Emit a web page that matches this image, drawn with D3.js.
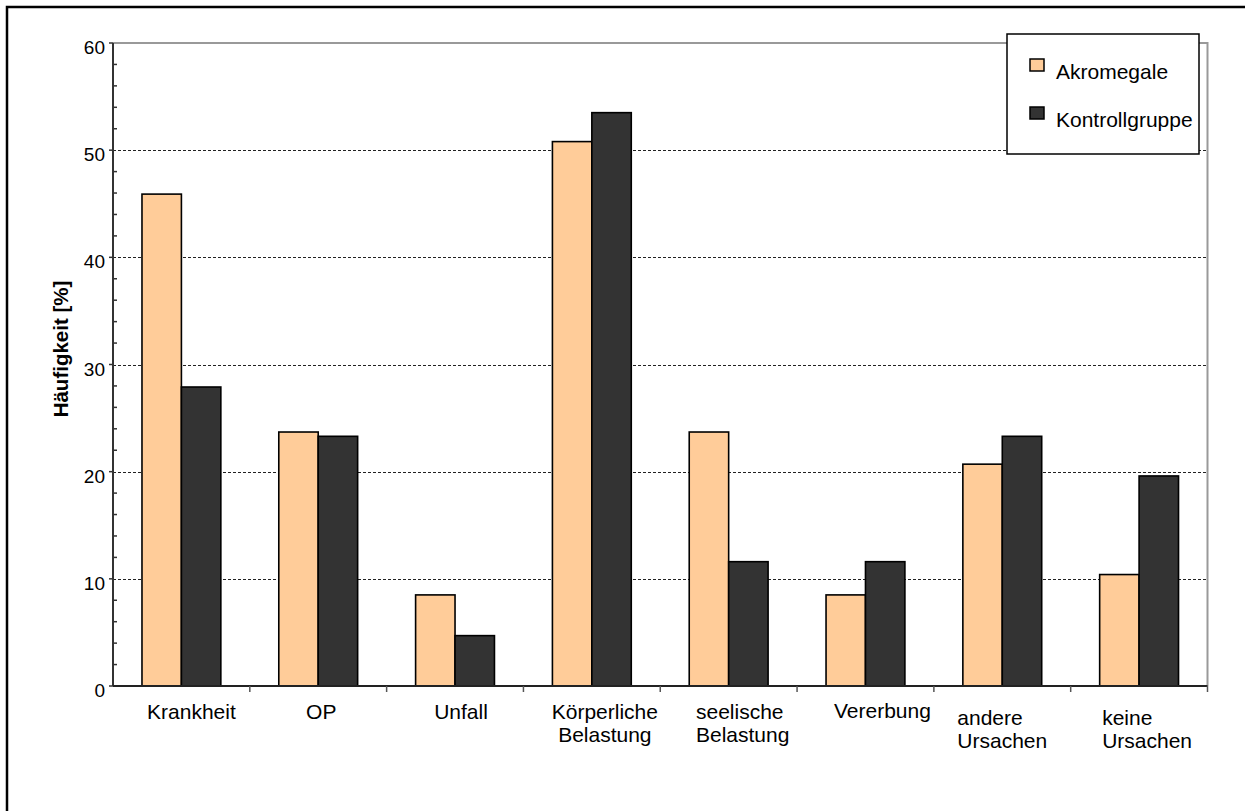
<!DOCTYPE html>
<html>
<head>
<meta charset="utf-8">
<script src="https://cdn.jsdelivr.net/npm/d3@7"></script>
<style>
  html, body { margin: 0; padding: 0; background: #fff; }
  svg { display: block; font-family: "Liberation Sans", Arial, sans-serif; }
</style>
</head>
<body>
<svg id="chart" width="1245" height="811"></svg>
<script>
// ---- data ----
const categories = ["Krankheit", "OP", "Unfall", "Körperliche Belastung", "seelische Belastung", "Vererbung", "andere Ursachen", "keine Ursachen"];
const categoryLines = [["Krankheit"], ["OP"], ["Unfall"], ["Körperliche", "Belastung"], ["seelische", "Belastung"], ["Vererbung"], ["andere", "Ursachen"], ["keine", "Ursachen"]];
const seriesNames = ["Akromegale", "Kontrollgruppe"];
const akromegale = [45.9, 23.7, 8.5, 50.8, 23.7, 8.5, 20.7, 10.4];
const kontrollgruppe = [27.9, 23.3, 4.7, 53.5, 11.6, 11.6, 23.3, 19.6];
const yTicks = [0, 10, 20, 30, 40, 50, 60];
const yMinorTicks = [2, 4, 6, 8, 12, 14, 16, 18, 22, 24, 26, 28, 32, 34, 36, 38, 42, 44, 46, 48, 52, 54, 56, 58];
const yTitle = "Häufigkeit [%]";

// ---- layout / style ----
const plot = { left: 113, right: 1207.5, top: 43, bottom: 686 };
const colors = { Akromegale: "#FFCC99", Kontrollgruppe: "#333333" };
const labelDx = [10, 3, 6, 13, 14, 17, 0, 8];
const labelAlign = ["middle", "middle", "middle", "middle", "start", "middle", "start", "start"];
const labelFirstBaseline = [719, 719, 719, 719, 719, 718, 725, 725];

const svg = d3.select("#chart");

// outer frame (only top/left visible)
svg.append("rect").attr("x", 7).attr("y", 7).attr("width", 1300).attr("height", 900)
  .attr("fill", "none").attr("stroke", "#000").attr("stroke-width", 2.5);

const x0 = d3.scaleBand().domain(categories).range([plot.left, plot.right]).padding(0);
const x1 = d3.scaleBand().domain(seriesNames).range([0, x0.bandwidth()]).paddingInner(0).paddingOuter(0.735);
const y = d3.scaleLinear().domain([0, 60]).range([plot.bottom, plot.top]);

// gridlines
svg.append("g").selectAll("line").data(yTicks.filter(t => t > 0 && t < 60)).join("line")
  .attr("x1", plot.left).attr("x2", plot.right)
  .attr("y1", d => Math.round(y(d)) + 0.5).attr("y2", d => Math.round(y(d)) + 0.5)
  .attr("stroke", "#222").attr("stroke-width", 1).attr("stroke-dasharray", "3,2");

// plot top & right border (gray)
svg.append("path")
  .attr("d", `M${plot.left},${y(60)}H${plot.right}V${plot.bottom}`)
  .attr("fill", "none").attr("stroke", "#999").attr("stroke-width", 2);

// bars
const series = [
  { name: "Akromegale", values: akromegale },
  { name: "Kontrollgruppe", values: kontrollgruppe }
];
const barData = [];
categories.forEach((c, i) => series.forEach(s => barData.push({ cat: c, name: s.name, v: s.values[i] })));
svg.append("g").selectAll("rect").data(barData).join("rect")
  .attr("x", d => x0(d.cat) + x1(d.name))
  .attr("y", d => y(d.v))
  .attr("width", x1.bandwidth())
  .attr("height", d => y(0) - y(d.v))
  .attr("fill", d => colors[d.name])
  .attr("stroke", "#000").attr("stroke-width", 1.6);

// y axis
const yAxis = svg.append("g");
yAxis.append("line").attr("x1", plot.left).attr("x2", plot.left).attr("y1", plot.top).attr("y2", plot.bottom)
  .attr("stroke", "#333").attr("stroke-width", 2);
yAxis.selectAll("line.major").data(yTicks).join("line").attr("class", "major")
  .attr("x1", plot.left - 4).attr("x2", plot.left)
  .attr("y1", d => y(d)).attr("y2", d => y(d)).attr("stroke", "#333").attr("stroke-width", 1.5);
yAxis.selectAll("line.minor").data(yMinorTicks).join("line").attr("class", "minor")
  .attr("x1", plot.left).attr("x2", plot.left + 4)
  .attr("y1", d => y(d)).attr("y2", d => y(d)).attr("stroke", "#333").attr("stroke-width", 1.5);
yAxis.selectAll("text").data(yTicks).join("text")
  .attr("x", 105).attr("y", d => y(d) + 11)
  .attr("text-anchor", "end").attr("font-size", 19).attr("fill", "#000")
  .text(d => d);

// x axis
const xAxis = svg.append("g");
xAxis.append("line").attr("x1", plot.left).attr("x2", plot.right).attr("y1", plot.bottom).attr("y2", plot.bottom)
  .attr("stroke", "#222").attr("stroke-width", 2);
const boundaries = categories.map(c => x0(c)).concat([plot.right]);
xAxis.selectAll("line.tick").data(boundaries.slice(1)).join("line").attr("class", "tick")
  .attr("x1", d => d).attr("x2", d => d).attr("y1", plot.bottom).attr("y2", plot.bottom + 6)
  .attr("stroke", "#555").attr("stroke-width", 1.5);

// category labels
categories.forEach((c, i) => {
  const cx = x0(c) + x0.bandwidth() / 2 + labelDx[i];
  const g = svg.append("g");
  const texts = categoryLines[i].map((line, j) =>
    g.append("text").attr("y", labelFirstBaseline[i] + j * 22.5)
      .attr("font-size", 21).attr("fill", "#000").text(line));
  if (labelAlign[i] === "middle") {
    texts.forEach(t => t.attr("x", cx).attr("text-anchor", "middle"));
  } else {
    const w = d3.max(texts, t => t.node().getComputedTextLength());
    texts.forEach(t => t.attr("x", cx - w / 2).attr("text-anchor", "start"));
  }
});

// y title
svg.append("text")
  .attr("transform", "translate(68,349) rotate(-90)")
  .attr("text-anchor", "middle").attr("font-size", 20.5).attr("font-weight", "bold")
  .text(yTitle);

// legend
const legend = svg.append("g");
legend.append("rect").attr("x", 1007).attr("y", 34).attr("width", 192).attr("height", 120)
  .attr("fill", "#fff").attr("stroke", "#000").attr("stroke-width", 1.5);
const legendRowsY = [79, 127];
seriesNames.forEach((name, i) => {
  legend.append("rect").attr("x", 1030).attr("y", legendRowsY[i] - 20).attr("width", 14).attr("height", 12)
    .attr("fill", colors[name]).attr("stroke", "#000").attr("stroke-width", 1.5);
  legend.append("text").attr("x", 1056).attr("y", legendRowsY[i])
    .attr("font-size", 21).attr("fill", "#000").text(name);
});
</script>
</body>
</html>
